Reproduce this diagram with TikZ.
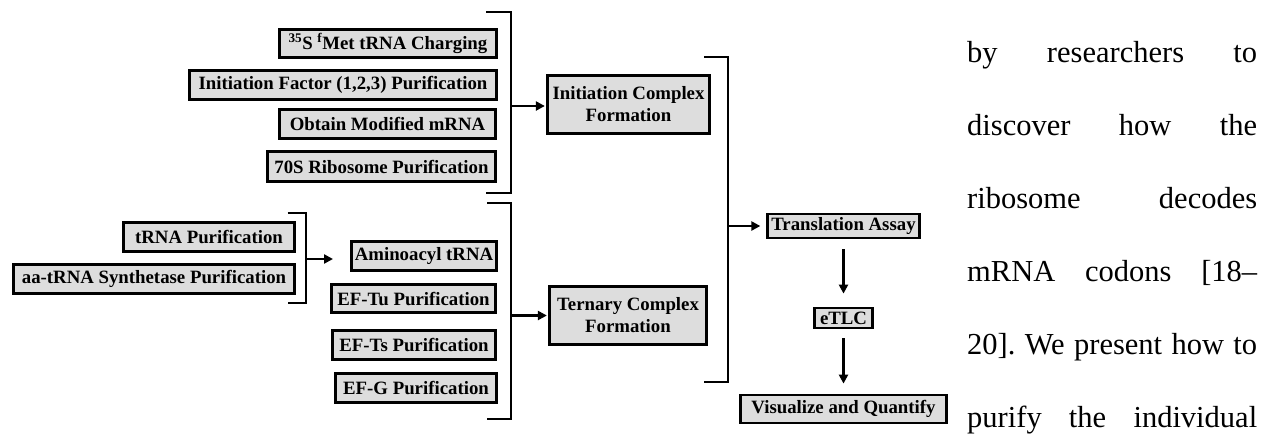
\documentclass[tikz,border=0pt]{standalone}
\usepackage{fontspec}
\setmainfont{Liberation Serif}
\usetikzlibrary{arrows.meta}
\definecolor{boxgray}{RGB}{221,221,221}
\begin{document}
\begin{tikzpicture}[x=1pt,y=-1pt,
  box/.style={draw=black, line width=2.8pt, fill=boxgray, inner sep=0pt,
    font=\fontsize{18.8}{22}\selectfont\bfseries, align=center},
  conn/.style={line width=2.7pt, line join=miter},
  arr/.style={line width=2.7pt, -{Triangle[length=9pt,width=9pt]}},
  body/.style={anchor=base west, inner sep=0pt, font=\fontsize{30.5}{36}\selectfont},
]
\useasboundingbox (0,0) rectangle (1272,434);

% initiation inputs
\node[box, minimum width=217pt, minimum height=28.5pt] (met) at (388,43.5) {\textsuperscript{35}S \textsuperscript{f}Met tRNA Charging};
\node[box, minimum width=307pt, minimum height=29.5pt] (ifp) at (343,85) {Initiation Factor (1,2,3) Purification};
\node[box, minimum width=216.5pt, minimum height=29.5pt] (mrna) at (387.5,124) {Obtain Modified mRNA};
\node[box, minimum width=228.5pt, minimum height=30pt] (rib) at (381.5,166.5) {70S Ribosome Purification};

% tRNA inputs
\node[box, minimum width=171.5pt, minimum height=29.5pt] (trna) at (209,237) {tRNA Purification};
\node[box, minimum width=280.5pt, minimum height=29.5pt] (aars) at (154,279) {aa-tRNA Synthetase Purification};

% ternary inputs
\node[box, minimum width=145.5pt, minimum height=29.5pt] (aa) at (424,256) {Aminoacyl tRNA};
\node[box, minimum width=164.5pt, minimum height=28.5pt] (tu) at (413.5,298.5) {EF-Tu Purification};
\node[box, minimum width=163.5pt, minimum height=29.5pt] (ts) at (414,345) {EF-Ts Purification};
\node[box, minimum width=161.5pt, minimum height=29.5pt] (efg) at (416,388) {EF-G Purification};

% complexes
\node[box, minimum width=162.5pt, minimum height=58.5pt] (ic) at (628.5,104.5) {Initiation Complex\\Formation};
\node[box, minimum width=157.5pt, minimum height=58.5pt] (tc) at (628,315.5) {Ternary Complex\\Formation};

% right column
\node[box, minimum width=151.5pt, minimum height=24pt] (ta) at (843.5,226) {Translation Assay};
\node[box, minimum width=58.5pt, minimum height=20pt] (etlc) at (843.5,318) {eTLC};
\node[box, minimum width=206.5pt, minimum height=28pt] (vq) at (843.5,409) {Visualize and Quantify};

% bracket 1
\coordinate (b1t) at (486,12);
\coordinate (b1b) at (486,193);
\coordinate (b1m) at (511,106);
\draw[conn] (b1t) -- ++(25,0) |- (b1b);
\draw[arr, shorten >=1pt] (b1m) -- (b1m -| ic.west);

% bracket 2
\coordinate (b2t) at (487,203);
\coordinate (b2b) at (487,419);
\coordinate (b2m) at (511,315.5);
\draw[conn] (b2t) -- ++(24,0) |- (b2b);
\draw[arr, shorten >=1pt] (b2m) -- (b2m -| tc.west);

% small bracket
\coordinate (b0t) at (287.5,213);
\coordinate (b0b) at (287.5,303);
\coordinate (b0m) at (306,259);
\coordinate (b0e) at (333,259);
\draw[conn] (b0t) -- ++(18.5,0) |- (b0b);
\draw[arr] (b0m) -- (b0e);

% bracket 3
\coordinate (b3t) at (704,57);
\coordinate (b3b) at (704,382);
\coordinate (b3m) at (728,226);
\draw[conn] (b3t) -- ++(24,0) |- (b3b);
\draw[arr, shorten >=6pt] (b3m) -- (b3m -| ta.west);

% vertical arrows
\draw[arr, shorten <=10pt, shorten >=13pt] (ta.south) -- (etlc.north);
\draw[arr, shorten <=9pt, shorten >=10pt] (etlc.south) -- (vq.north);

% body text
\node[body] (l1) at (967,62) {\hbox to 290pt{by\hfill researchers\hfill to}};
\node[body] (l2) at (967,135) {\hbox to 290pt{discover\hfill how\hfill the}};
\node[body] (l3) at (967,208) {\hbox to 290pt{ribosome\hfill decodes}};
\node[body] (l4) at (967,281) {\hbox to 290pt{mRNA\hfill codons\hfill [18–}};
\node[body] (l5) at (967,354) {\hbox to 290pt{20].\hfill We\hfill present\hfill how\hfill to}};
\node[body] (l6) at (967,427) {\hbox to 290pt{purify\hfill the\hfill individual}};
\end{tikzpicture}
\end{document}
